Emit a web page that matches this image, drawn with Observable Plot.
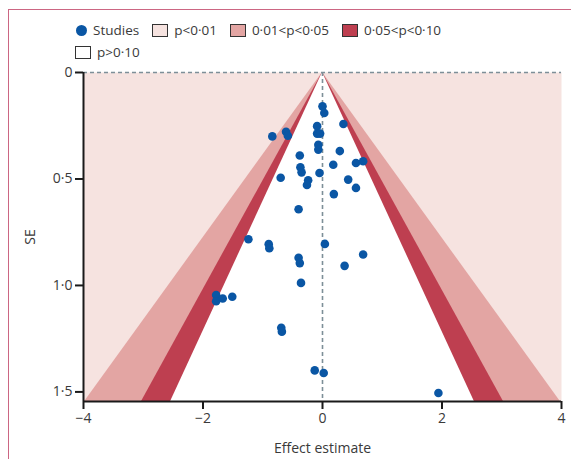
<!DOCTYPE html>
<html>
<head>
<meta charset="utf-8">
<script src="https://cdn.jsdelivr.net/npm/d3@7"></script>
<script src="https://cdn.jsdelivr.net/npm/@observablehq/plot@0.6"></script>
<style>
  html, body { margin: 0; padding: 0; background: #fff; }
  #wrap { position: relative; width: 571px; height: 459px; overflow: hidden; font-family: "Open Sans", sans-serif; color: #3a3a3a; }
  #border { position: absolute; left: 8px; top: 9px; width: 600px; height: 500px; border-left: 1.5px solid #cc6683; border-top: 1.5px solid #cc6683; }
  #legend { position: absolute; left: 75px; top: 19px; width: 390px; display: flex; flex-wrap: wrap; font-size: 13.5px; line-height: 22px; }
  .item { display: flex; align-items: center; margin-right: 13px; height: 22px; }
  .sw { width: 14px; height: 11px; border: 1.2px solid #333; margin-right: 6px; box-sizing: content-box; }
  .dotsw { width: 11px; height: 11px; border-radius: 50%; margin-right: 6px; margin-left: 1px; }
  #chart { position: absolute; left: 0; top: 0; }
</style>
</head>
<body>
<div id="wrap">
  <div id="border"></div>
  <div id="legend"></div>
  <div id="chart"></div>
</div>
<script>
// Study estimates
const studyEffect = [0.00, 0.03, 0.35, -0.09, -0.84, -0.61, -0.58, -0.09, -0.04, -0.07, -0.07, 0.29, -0.38, 0.18, 0.56, 0.68, -0.37, -0.35, -0.05, -0.70, -0.24, -0.26, 0.43, 0.56, 0.19,
  -0.40, -1.24, -0.90, -0.89, 0.04, 0.68, -0.40, -0.38, 0.37, -0.36,
  -1.78, -1.78, -1.67, -1.51, -0.69, -0.68, -0.13, 0.02, 1.94];
const studySE = [0.159, 0.190, 0.242, 0.252, 0.300, 0.278, 0.297, 0.287, 0.287, 0.339, 0.362, 0.369, 0.390, 0.433, 0.425, 0.417, 0.445, 0.469, 0.472, 0.494, 0.506, 0.528, 0.503, 0.542, 0.571,
  0.642, 0.783, 0.806, 0.825, 0.805, 0.855, 0.870, 0.895, 0.908, 0.988,
  1.045, 1.074, 1.061, 1.053, 1.199, 1.217, 1.399, 1.411, 1.505];

// Funnel contours (z critical values) and colours
const contourZ = [2.576, 1.96, 1.645];
const contourFill = ["#e3a5a3", "#be3f50", "#ffffff"];
const outerFill = "#f6e3e0";
const seMax = 1.545;

const xTicks = [-4, -2, 0, 2, 4];
const yTicks = [0, 0.5, 1.0, 1.5];

const legendLabels = ["Studies", "p<0·01", "0·01<p<0·05", "0·05<p<0·10", "p>0·10"];
const legendColors = ["#0a56a4", "#f6e3e0", "#e3a5a3", "#be3f50", "#ffffff"];

const studies = studyEffect.map((e, i) => ({effect: e, se: studySE[i]}));
const seEnds = [0, seMax];

const fmtY = d => d === 0 ? "0" : d.toFixed(1).replace(".", "·");
const fmtX = d => d < 0 ? "\u2212" + Math.abs(d) : String(d);

const plot = Plot.plot({
  width: 571,
  height: 459,
  marginLeft: 83,
  marginRight: 10,
  marginTop: 72,
  marginBottom: 58,
  style: {fontFamily: "'Open Sans', sans-serif", fontSize: "14px", color: "#3a3a3a", background: "transparent"},
  x: {domain: [-4, 4]},
  y: {domain: [0, seMax], reverse: true},
  marks: [
    Plot.frame({fill: outerFill, stroke: "none"}),
    ...contourZ.map((z, i) => Plot.areaX(seEnds, {y: d => d, x1: d => -z * d, x2: d => z * d, fill: contourFill[i]})),
    Plot.ruleY([0], {stroke: "#7d8f98", strokeWidth: 1.4, strokeDasharray: "4,3"}),
    Plot.ruleX([0], {y1: 0, y2: seMax, stroke: "#7d8f98", strokeWidth: 1.6, strokeDasharray: "4,3"}),
    Plot.dot(studies, {x: "effect", y: "se", r: 4.3, fill: "#0a56a4", stroke: "none"}),
    Plot.ruleX([-4], {y1: 0, y2: seMax, stroke: "#1a1a1a", strokeWidth: 2}),
    Plot.ruleY([seMax], {x1: -4, x2: 4, stroke: "#1a1a1a", strokeWidth: 2}),
    Plot.axisX({ticks: xTicks, tickFormat: fmtX, tickSize: 8, tickPadding: 4, stroke: "#1a1a1a", strokeWidth: 2,
      label: "Effect estimate", labelAnchor: "center", labelArrow: "none", labelOffset: 51}),
    Plot.axisY({ticks: yTicks, tickFormat: fmtY, tickSize: 8, tickPadding: 3, stroke: "#1a1a1a", strokeWidth: 2,
      label: "SE", labelAnchor: "center", labelArrow: "none", labelOffset: 58})
  ]
});
document.getElementById("chart").appendChild(plot);

const legend = document.getElementById("legend");
legendLabels.forEach((lab, i) => {
  const it = document.createElement("div");
  it.className = "item";
  const sw = document.createElement("div");
  if (i === 0) { sw.className = "dotsw"; sw.style.background = legendColors[i]; }
  else { sw.className = "sw"; sw.style.background = legendColors[i]; }
  const tx = document.createElement("span");
  tx.textContent = lab;
  it.appendChild(sw); it.appendChild(tx);
  legend.appendChild(it);
});
</script>
</body>
</html>
